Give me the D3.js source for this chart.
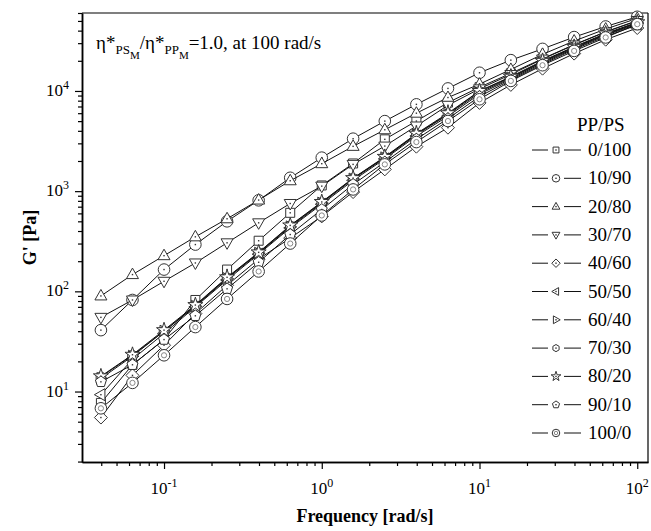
<!DOCTYPE html>
<html>
<head>
<meta charset="utf-8">
<script src="https://cdn.jsdelivr.net/npm/d3@7"></script>
<style>
  body { margin: 0; background: #fff; }
  svg { font-family: "Liberation Serif", "Times New Roman", serif; }
  .tick-label { font-size: 17px; }
  .axis-title { font-size: 18px; font-weight: bold; }
</style>
</head>
<body>
<svg id="chart" width="651" height="531"></svg>
<script>
// frequency points [rad/s]
const freq = [0.0398, 0.0631, 0.1, 0.158, 0.251, 0.398, 0.631, 1, 1.58, 2.51,
  3.98, 6.31, 10, 15.8, 25.1, 39.8, 63.1, 100];

const blendNames = ["0/100", "10/90", "20/80", "30/70", "40/60", "50/50",
  "60/40", "70/30", "80/20", "90/10", "100/0"];
const markerTypes = ["square", "circle", "triUp", "triDown", "diamond", "triLeft",
  "triRight", "hexagon", "star", "pentagon", "circleGrey"];

// G' [Pa]
const g0_100 = [7.7, 18.5, 33, 82, 165, 320, 608, 1140, 1890, 3290, 5010, 7650, 10900, 15000, 21000, 29000, 39000, 50000];
const g10_90 = [41, 82, 165, 293, 500, 810, 1360, 2160, 3340, 5000, 7350, 10600, 15200, 20300, 26300, 34500, 44000, 55000];
const g20_80 = [90, 147, 227, 350, 530, 815, 1270, 1880, 2800, 4100, 6000, 8600, 11700, 16400, 23200, 31500, 41500, 53000];
const g30_70 = [55, 82, 126, 192, 305, 483, 753, 1122, 1850, 2818, 4470, 7200, 10500, 14600, 20800, 28800, 38800, 50500];
const g40_60 = [5.5, 14.5, 29, 60, 115, 210, 340, 560, 980, 1650, 2780, 4300, 7600, 11500, 16700, 23600, 32500, 42500];
const g50_50 = [9.3, 21, 38, 70, 130, 235, 430, 740, 1280, 2100, 3550, 5600, 9300, 13200, 19000, 26500, 36000, 46500];
const g60_40 = [13.5, 22.5, 40, 71, 134, 240, 440, 760, 1320, 2150, 3650, 5800, 9600, 13500, 19400, 27000, 36500, 47500];
const g70_30 = [14, 23, 40, 72, 136, 243, 450, 770, 1340, 2170, 3700, 5900, 9900, 13700, 19700, 27300, 37000, 48000];
const g80_20 = [14.2, 23.3, 41, 73, 138, 245, 455, 780, 1350, 2200, 3750, 6000, 10000, 13900, 20000, 27600, 37500, 48500];
const g90_10 = [12.5, 18.5, 33, 57, 106, 195, 369, 656, 1167, 1950, 3300, 5300, 8800, 12900, 18500, 26000, 35000, 45500];
const g100_0 = [6.8, 12.2, 23, 44, 84, 158, 300, 572, 1040, 1850, 3090, 5010, 8260, 12600, 18070, 25100, 34200, 46400];

const seriesValues = [g0_100, g10_90, g20_80, g30_70, g40_60, g50_50, g60_40, g70_30, g80_20, g90_10, g100_0];

const xMajor = [0.1, 1, 10, 100];
const xMajorExp = ["-1", "0", "1", "2"];
const yMajor = [10, 100, 1000, 10000];
const yMajorExp = ["1", "2", "3", "4"];

const svg = d3.select("#chart");
const margin = { top: 13, right: 3, bottom: 69, left: 82 };
const width = 651 - margin.left - margin.right;
const height = 531 - margin.top - margin.bottom;

const g = svg.append("g").attr("transform", `translate(${margin.left},${margin.top})`);

const x = d3.scaleLog().domain([0.0302, 117]).range([0, width]);
const y = d3.scaleLog().domain([1.98, 60000]).range([height, 0]);

// minor ticks 2..9 in every decade
function minorTicks(scale) {
  const [a, b] = scale.domain();
  const out = [];
  for (let e = Math.floor(Math.log10(a)); e <= Math.ceil(Math.log10(b)); e++) {
    for (let k = 2; k <= 9; k++) {
      const v = k * Math.pow(10, e);
      if (v >= a && v <= b) out.push(v);
    }
  }
  return out;
}

// axes
g.append("g")
  .attr("transform", `translate(0,${height})`)
  .call(d3.axisBottom(x).tickValues(minorTicks(x)).tickSize(4).tickSizeOuter(0).tickFormat(""));
g.append("g")
  .attr("transform", `translate(0,${height})`)
  .call(d3.axisBottom(x).tickValues(xMajor).tickSize(7).tickSizeOuter(0).tickFormat(""));
g.append("g")
  .call(d3.axisLeft(y).tickValues(minorTicks(y)).tickSize(4).tickSizeOuter(0).tickFormat(""));
g.append("g")
  .call(d3.axisLeft(y).tickValues(yMajor).tickSize(7).tickSizeOuter(0).tickFormat(""));

g.selectAll(".domain").attr("stroke", "#000").attr("stroke-width", 1.5);
g.selectAll(".tick line").attr("stroke", "#000").attr("stroke-width", 1.2);

// top and right frame
g.append("line").attr("x1", 0).attr("x2", width).attr("y1", 0).attr("y2", 0)
  .attr("stroke", "#000").attr("stroke-width", 1.2);
g.append("line").attr("x1", width).attr("x2", width).attr("y1", 0).attr("y2", height)
  .attr("stroke", "#000").attr("stroke-width", 1.2);

// tick labels with superscripts
xMajor.forEach((v, i) => {
  const t = g.append("text").attr("class", "tick-label")
    .attr("x", x(v)).attr("y", height + 32).attr("text-anchor", "middle");
  t.append("tspan").text("10");
  t.append("tspan").attr("dy", -7).style("font-size", "12px").text(xMajorExp[i]);
});
yMajor.forEach((v, i) => {
  const t = g.append("text").attr("class", "tick-label")
    .attr("x", -13).attr("y", y(v) + 5).attr("text-anchor", "end");
  t.append("tspan").text("10");
  t.append("tspan").attr("dy", -7).style("font-size", "12px").text(yMajorExp[i]);
});

svg.append("text").attr("class", "axis-title")
  .attr("x", margin.left + width / 2).attr("y", 522)
  .attr("text-anchor", "middle").text("Frequency [rad/s]");
svg.append("text").attr("class", "axis-title")
  .attr("transform", "rotate(-90)")
  .attr("x", -(margin.top + height / 2)).attr("y", 36)
  .attr("text-anchor", "middle").text("G' [Pa]");

// annotation
const ann = svg.append("text").attr("x", 96).attr("y", 49).style("font-size", "19px");
ann.append("tspan").text("η*");
ann.append("tspan").attr("dy", 5).style("font-size", "13px").text("PS");
ann.append("tspan").attr("dy", 5).style("font-size", "11px").text("M");
ann.append("tspan").attr("dy", -10).text("/η*");
ann.append("tspan").attr("dy", 5).style("font-size", "13px").text("PP");
ann.append("tspan").attr("dy", 5).style("font-size", "11px").text("M");
ann.append("tspan").attr("dy", -10).text("=1.0, at 100 rad/s");

// marker drawing
function polygon(pts) {
  return "M" + pts.map(p => p.join(",")).join("L") + "Z";
}
function regular(n, r, rot) {
  const pts = [];
  for (let i = 0; i < n; i++) {
    const a = rot + i * 2 * Math.PI / n;
    pts.push([r * Math.cos(a), r * Math.sin(a)]);
  }
  return polygon(pts);
}
function markerPath(type, s) {
  switch (type) {
    case "square": return polygon([[-4.5 * s, -4.5 * s], [4.5 * s, -4.5 * s], [4.5 * s, 4.5 * s], [-4.5 * s, 4.5 * s]]);
    case "triUp": return polygon([[0, -6.5 * s], [6 * s, 4 * s], [-6 * s, 4 * s]]);
    case "triDown": return polygon([[0, 6.5 * s], [6 * s, -4 * s], [-6 * s, -4 * s]]);
    case "triLeft": return polygon([[-6.5 * s, 0], [4 * s, -6 * s], [4 * s, 6 * s]]);
    case "triRight": return polygon([[6.5 * s, 0], [-4 * s, -6 * s], [-4 * s, 6 * s]]);
    case "diamond": return polygon([[0, -6.5 * s], [6.5 * s, 0], [0, 6.5 * s], [-6.5 * s, 0]]);
    case "hexagon": return regular(6, 5.5 * s, -Math.PI / 2);
    case "pentagon": return regular(5, 5.8 * s, -Math.PI / 2);
    case "star": return d3.symbol(d3.symbolStar, 70 * s * s)();
    default: return null;
  }
}
function drawMarker(sel, type, cx, cy, s) {
  const m = sel.append("g").attr("transform", `translate(${cx},${cy})`);
  if (type === "circle" || type === "circleGrey") {
    m.append("circle").attr("r", 5.8 * s).attr("fill", "#fff").attr("stroke", "#333").attr("stroke-width", 1);
  } else {
    m.append("path").attr("d", markerPath(type, s)).attr("fill", "#fff").attr("stroke", "#333").attr("stroke-width", 1);
  }
  if (type === "circleGrey") {
    m.append("circle").attr("r", 2.6 * s).attr("fill", "none").attr("stroke", "#888").attr("stroke-width", 1);
  } else {
    m.append("rect").attr("x", -0.7).attr("y", -0.7).attr("width", 1.4).attr("height", 1.4).attr("fill", "#333");
  }
}

const line = d3.line().x(d => x(d[0])).y(d => y(d[1]));

seriesValues.forEach((vals, si) => {
  const pts = vals.map((v, i) => [freq[i], v]);
  const sg = g.append("g").attr("class", "series");
  sg.append("path").datum(pts).attr("d", line)
    .attr("fill", "none").attr("stroke", "#111").attr("stroke-width", 1);
  pts.forEach(p => drawMarker(sg, markerTypes[si], x(p[0]), y(p[1]), 1));
});

// legend
const lg = svg.append("g");
lg.append("text").attr("x", 577).attr("y", 131).style("font-size", "19px").text("PP/PS");
blendNames.forEach((name, i) => {
  const cy = 150 + i * 28.3;
  lg.append("line").attr("x1", 532).attr("x2", 548).attr("y1", cy).attr("y2", cy).attr("stroke", "#111");
  lg.append("line").attr("x1", 564).attr("x2", 581).attr("y1", cy).attr("y2", cy).attr("stroke", "#111");
  drawMarker(lg, markerTypes[i], 556, cy, 0.65);
  lg.append("text").attr("x", 588).attr("y", cy + 6).style("font-size", "19px").text(name);
});
</script>
</body>
</html>
